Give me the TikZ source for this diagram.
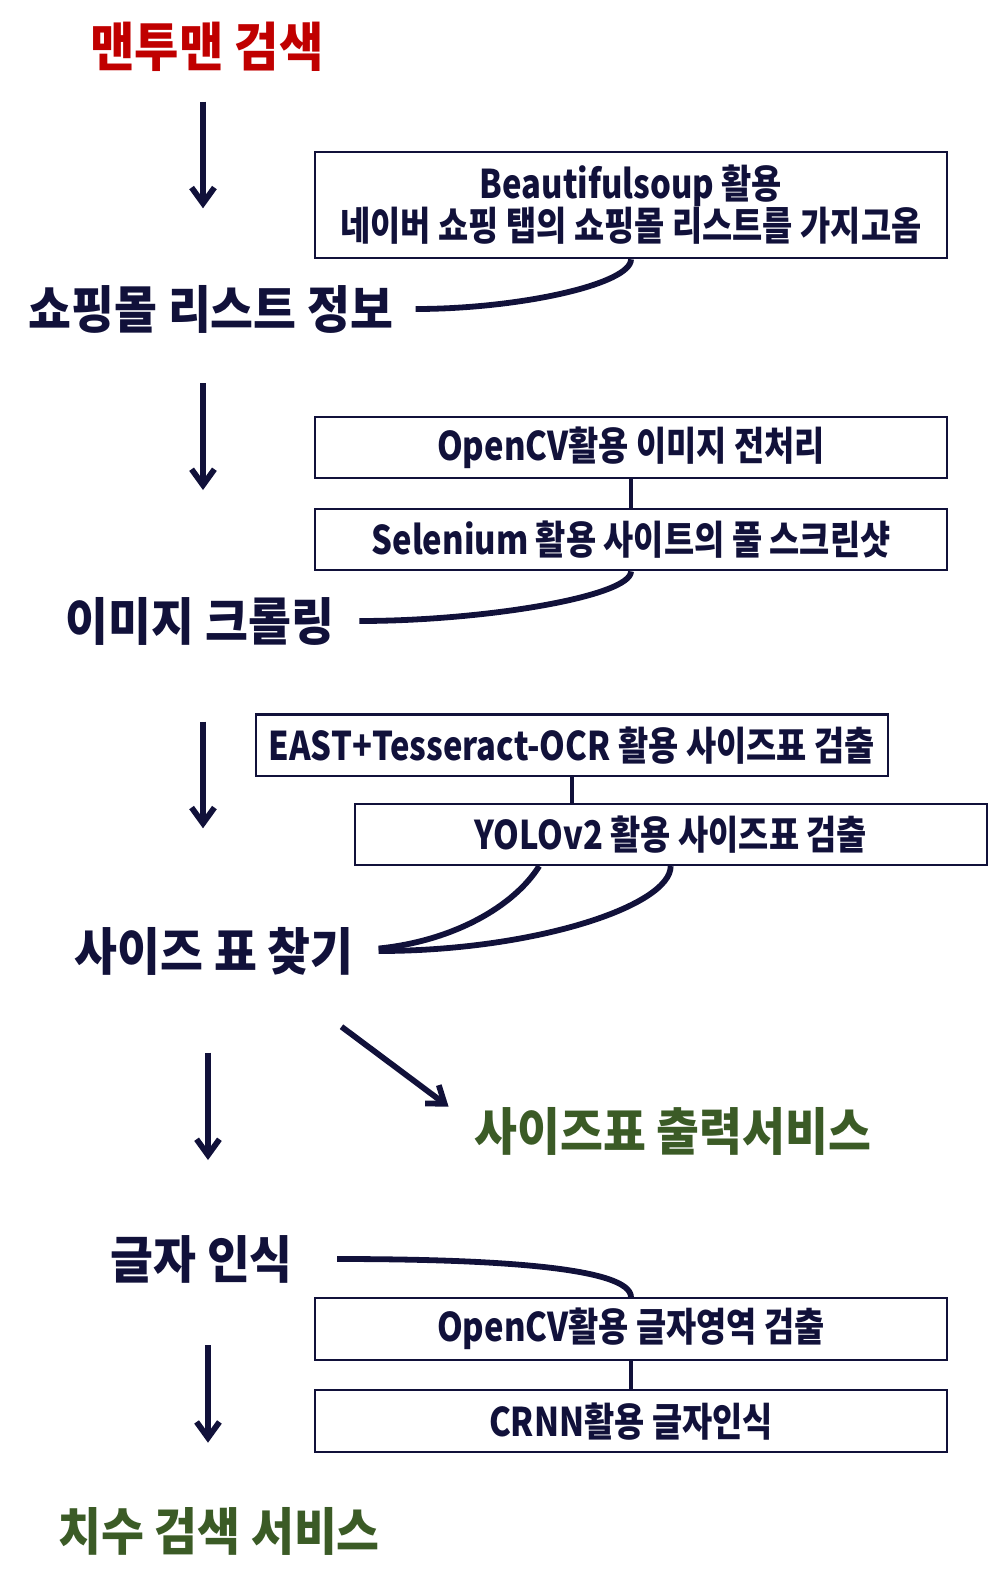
\documentclass[tikz,border=0pt]{standalone}
\usepackage{fontspec}
\setmainfont{Noto Sans CJK KR}[FakeStretch=0.915]
\newfontfamily\toolfont{Noto Sans CJK KR}[FakeStretch=0.83]
\usetikzlibrary{arrows.meta, positioning}

\definecolor{navy}{HTML}{11113A}
\definecolor{titlered}{HTML}{C00000}
\definecolor{svcgreen}{HTML}{3B5B26}

\tikzset{
  stage/.style={font=\fontsize{29}{32}\selectfont\bfseries, text=navy, inner sep=0pt},
  service/.style={stage, text=svcgreen},
  tool/.style={draw=navy, line width=1.2pt, minimum width=12.64cm, minimum height=1.23cm,
    inner sep=0pt, font=\toolfont\fontsize{22.5}{24}\selectfont\bfseries, text=navy},
  flow/.style={draw=navy, line width=3.3pt, -{Straight Barb[length=9pt,width=13pt]}},
  link/.style={draw=navy, line width=3.3pt},
  pipe/.style={draw=navy, line width=2.2pt}
}

\begin{document}
\begin{tikzpicture}[x=0.02cm, y=0.02cm]
\useasboundingbox (0,0) rectangle (988,-1592);

% main stages
\node[stage, text=titlered, font=\fontsize{30}{33}\selectfont\bfseries] (search) at (207,-46.7) {맨투맨 검색};
\node[stage] (shoplist) at (211,-309) {쇼핑몰 리스트 정보};
\node[stage] (crawl) at (200,-621) {이미지 크롤링};
\node[stage] (sizefind) at (214,-951) {사이즈 표 찾기};
\node[service] (sizeout) at (672.7,-1131.7) {사이즈표 출력서비스};
\node[stage] (ocr) at (201.7,-1259) {글자 인식};
\node[service] (dimsearch) at (219,-1531.7) {치수 검색 서비스};

% tools
\node[tool, minimum height=2.13cm, align=center] (soup) at (631,-205) {Beautifulsoup 활용\\네이버 쇼핑 탭의 쇼핑몰 리스트를 가지고옴};
\node[tool] (prep) at (631,-447.5) {OpenCV활용 이미지 전처리};
\node[tool, below=0.57cm of prep] (selen) {Selenium 활용 사이트의 풀 스크린샷};
\node[tool] (east) at (571.7,-745.2) {EAST+Tesseract-OCR 활용 사이즈표 검출};
\node[tool, below=0.51cm of east, xshift=1.98cm] (yolo) {YOLOv2 활용 사이즈표 검출};
\node[tool] (region) at (631,-1329) {OpenCV활용 글자영역 검출};
\node[tool, below=0.57cm of region] (crnn) {CRNN활용 글자인식};

% arrow ends
\coordinate (a1s) at (203,-101.7); \coordinate (a1e) at (203,-208.3);
\coordinate (a2s) at (203,-383.3); \coordinate (a2e) at (203,-490);
\coordinate (a3s) at (203,-721.7); \coordinate (a3e) at (203,-828.3);
\coordinate (a4s) at (208,-1052.7); \coordinate (a4e) at (208,-1160);
\coordinate (a5s) at (208,-1345); \coordinate (a5e) at (208,-1442.7);
\coordinate (a6s) at (341.5,-1026.7); \coordinate (a6e) at (448.6,-1106.7);

\draw[flow] (a1s) -- (a1e);
\draw[flow] (a2s) -- (a2e);
\draw[flow] (a3s) -- (a3e);
\draw[flow] (a4s) -- (a4e);
\draw[flow] (a5s) -- (a5e);
\draw[flow] (a6s) -- (a6e);

% tool links
\draw[pipe] (prep.south) -- (selen.north);
\draw[pipe] (east.south) -- (east.south |- yolo.north);
\draw[pipe] (region.south) -- (crnn.north);

\draw[link, shorten >=0.44cm] (soup.south) .. controls +(0,-25) and +(125,0) .. (shoplist.east);
\draw[link, shorten >=0.5cm] (selen.south) .. controls +(0,-25) and +(150,0) .. (crawl.east);
\draw[link, shorten >=0.5cm] ([xshift=-2.63cm]yolo.south) .. controls +(-25,-40) and +(100,10) .. (sizefind.east);
\draw[link, shorten >=0.5cm] (yolo.south) .. controls +(0,-40) and +(180,0) .. (sizefind.east);
\draw[link, shorten <=0.88cm] (ocr.east) .. controls +(200,0) and +(0,30) .. (region.north);

\end{tikzpicture}
\end{document}
